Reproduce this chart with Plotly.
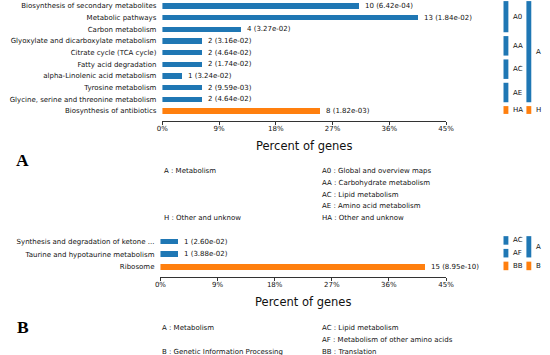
import plotly.graph_objects as go

# ---------------- data ----------------
A_terms = ["Biosynthesis of secondary metabolites", "Metabolic pathways", "Carbon metabolism",
           "Glyoxylate and dicarboxylate metabolism", "Citrate cycle (TCA cycle)",
           "Fatty acid degradation", "alpha-Linolenic acid metabolism", "Tyrosine metabolism",
           "Glycine, serine and threonine metabolism", "Biosynthesis of antibiotics"]
A_counts = [10, 13, 4, 2, 2, 2, 1, 2, 2, 8]
A_pvals = ["6.42e-04", "1.84e-02", "3.27e-02", "3.16e-02", "4.64e-02",
           "1.74e-02", "3.24e-02", "9.59e-03", "4.64e-02", "1.82e-03"]
A_level2 = ["A0", "A0", "A0", "AA", "AA", "AC", "AC", "AE", "AE", "HA"]
A_level1 = ["A", "A", "A", "A", "A", "A", "A", "A", "A", "H"]
A_total = 32
A_level1_names = {"A": "Metabolism", "H": "Other and unknow"}
A_level2_names = {"A0": "Global and overview maps", "AA": "Carbohydrate metabolism",
                  "AC": "Lipid metabolism", "AE": "Amino acid metabolism", "HA": "Other and unknow"}

B_terms = ["Synthesis and degradation of ketone ...", "Taurine and hypotaurine metabolism", "Ribosome"]
B_counts = [1, 1, 15]
B_pvals = ["2.60e-02", "3.88e-02", "8.95e-10"]
B_level2 = ["AC", "AF", "BB"]
B_level1 = ["A", "A", "B"]
B_total = 36
B_level1_names = {"A": "Metabolism", "B": "Genetic Information Processing"}
B_level2_names = {"AC": "Lipid metabolism", "AF": "Metabolism of other amino acids", "BB": "Translation"}

x_ticks = [0, 9, 18, 27, 36, 45]
COLORS = {"A": "#1f77b4", "H": "#ff7f0e", "B": "#ff7f0e"}

W, H = 550, 355
FONT = "DejaVu Sans"
TXT = "#111111"

def px(x):
    return x / W

def py(y):
    return 1 - y / H

fig = go.Figure()
annotations = []
shapes = []

panels = [
    dict(terms=A_terms, counts=A_counts, pvals=A_pvals, l2=A_level2, l1=A_level1, total=A_total,
         n1=A_level1_names, n2=A_level2_names, xa="x", ya="y", dom=(0, 121), rng=(9.857, -0.514),
         bw=0.47, leg_y0=171, leg_dy=11.75, label="A", label_y=160, xdom=(160.5, 451.5)),
    dict(terms=B_terms, counts=B_counts, pvals=B_pvals, l2=B_level2, l1=B_level1, total=B_total,
         n1=B_level1_names, n2=B_level2_names, xa="x2", ya="y2", dom=(233, 277), rng=(2.784, -0.667),
         bw=0.44, leg_y0=327.5, leg_dy=12, label="B", label_y=326.5, xdom=(158.5, 451.5)),
]

def runs(labels):
    out = []
    start = 0
    for i in range(1, len(labels) + 1):
        if i == len(labels) or labels[i] != labels[start]:
            out.append((labels[start], start, i - 1))
            start = i
    return out

for p in panels:
    pct = [c / p["total"] * 100 for c in p["counts"]]
    cols = [COLORS[g] for g in p["l1"]]
    fig.add_trace(go.Bar(
        x=pct, y=p["terms"], orientation="h", marker=dict(color=cols, line=dict(width=0)),
        width=p["bw"], xaxis=p["xa"], yaxis=p["ya"], showlegend=False, hoverinfo="skip"))
    # value labels
    for t, v, c, pv in zip(p["terms"], pct, p["counts"], p["pvals"]):
        annotations.append(dict(x=v, y=t, xref=p["xa"], yref=p["ya"], text=f"{c} ({pv})",
                                showarrow=False, xanchor="left", yanchor="middle", xshift=4,
                                font=dict(family=FONT, size=7, color=TXT)))
    # group bars on the right
    for (g, s, e) in runs(p["l2"]):
        shapes.append(dict(type="rect", xref="paper", yref=p["ya"], x0=px(510.5), x1=px(515.5),
                           y0=s - 0.42, y1=e + 0.25, fillcolor=COLORS[g[0]], line=dict(width=0)))
        annotations.append(dict(x=px(518.5), y=(s - 0.42 + e + 0.25) / 2, xref="paper", yref=p["ya"],
                                text=g, showarrow=False, xanchor="left", yanchor="middle",
                                font=dict(family=FONT, size=7, color=TXT)))
    for (g, s, e) in runs(p["l1"]):
        shapes.append(dict(type="rect", xref="paper", yref=p["ya"], x0=px(534), x1=px(539),
                           y0=s - 0.42, y1=e + 0.25, fillcolor=COLORS[g], line=dict(width=0)))
        annotations.append(dict(x=px(541.5), y=(s - 0.42 + e + 0.25) / 2, xref="paper", yref=p["ya"],
                                text=g, showarrow=False, xanchor="left", yanchor="middle",
                                font=dict(family=FONT, size=7, color=TXT)))
    # legend text block
    l2_order = []
    for g in p["l2"]:
        if g not in l2_order:
            l2_order.append(g)
    for i, g in enumerate(l2_order):
        yy = p["leg_y0"] + i * p["leg_dy"]
        annotations.append(dict(x=px(322), y=py(yy), xref="paper", yref="paper",
                                text=f"{g} : {p['n2'][g]}", showarrow=False, xanchor="left",
                                yanchor="middle", font=dict(family=FONT, size=7, color=TXT)))
    seen = []
    for g1, g2 in zip(p["l1"], p["l2"]):
        if g1 not in seen:
            seen.append(g1)
            i = l2_order.index(g2)
            yy = p["leg_y0"] + i * p["leg_dy"]
            annotations.append(dict(x=px(p["xdom"][0]), y=py(yy), xref="paper", yref="paper",
                                    text=f"{g1} : {p['n1'][g1]}", showarrow=False, xanchor="left",
                                    yanchor="middle", font=dict(family=FONT, size=7, color=TXT)))
    # panel letter
    annotations.append(dict(x=px(17), y=py(p["label_y"]), xref="paper", yref="paper",
                            text=f"<b>{p['label']}</b>", showarrow=False, xanchor="center",
                            yanchor="middle", font=dict(family="Liberation Serif", size=17.5, color="#000")))

def xaxis_cfg(p):
    return dict(range=[0, 45], tickvals=x_ticks, ticktext=[f"{t}%" for t in x_ticks],
                showline=True, linecolor="#000", linewidth=0.8, ticks="outside", ticklen=3,
                tickwidth=0.8, tickcolor="#000", showgrid=False, zeroline=False,
                tickfont=dict(family=FONT, size=7, color=TXT), ticklabelstandoff=-2,
                title=dict(text="Percent of genes", font=dict(family=FONT, size=11.5, color=TXT),
                           standoff=9),
                domain=[px(p["xdom"][0]), px(p["xdom"][1])], fixedrange=True,
                anchor=p["ya"])

def yaxis_cfg(p):
    return dict(showline=False, showgrid=False, zeroline=False, ticks="",
                tickfont=dict(family=FONT, size=7, color=TXT), ticklabelstandoff=5,
                fixedrange=True, domain=[py(p["dom"][1]), py(p["dom"][0])],
                range=list(p["rng"]), anchor=p["xa"])

fig.update_layout(
    width=W, height=H, margin=dict(l=0, r=0, t=0, b=0),
    paper_bgcolor="white", plot_bgcolor="white",
    xaxis=xaxis_cfg(panels[0]), yaxis=yaxis_cfg(panels[0]),
    xaxis2=xaxis_cfg(panels[1]), yaxis2=yaxis_cfg(panels[1]),
    annotations=annotations, shapes=shapes, bargap=0,
)

fig.write_html("out.html", config={"displayModeBar": False, "staticPlot": True},
               post_script="document.body.style.margin='0';document.body.style.padding='0';"
                           "document.body.style.overflow='hidden';")
